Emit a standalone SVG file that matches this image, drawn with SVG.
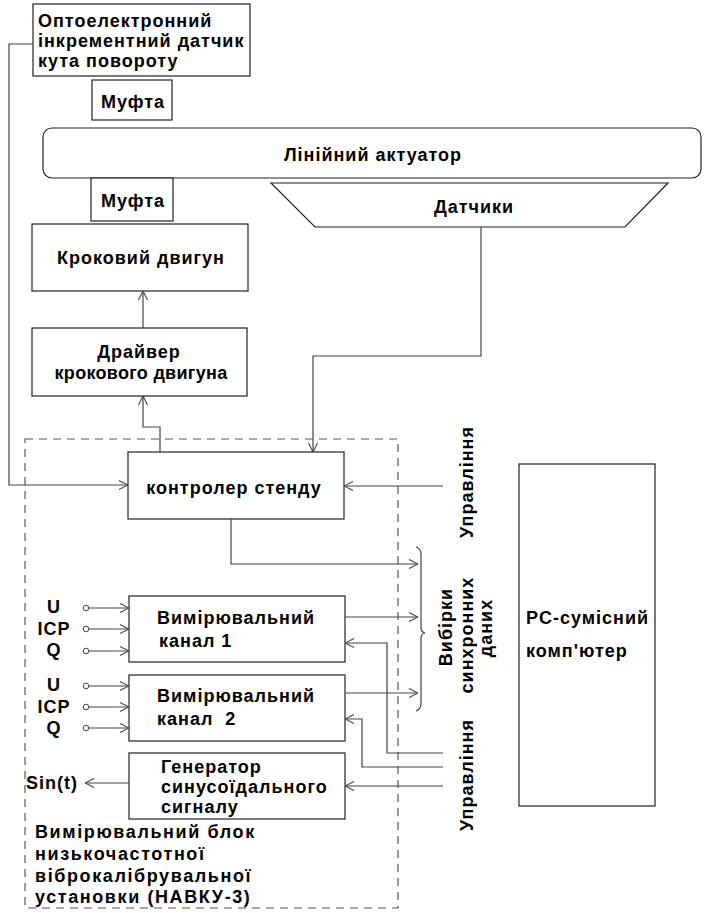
<svg xmlns="http://www.w3.org/2000/svg" width="704" height="913" viewBox="0 0 704 913">
<defs>
<style>
.t{font-family:"Liberation Sans",Arial,sans-serif;font-weight:bold;font-size:18px;letter-spacing:1px;fill:#000}
.c{text-anchor:middle}
.box{fill:#fff;stroke:#222;stroke-width:1.2}
.ln{fill:none;stroke:#444;stroke-width:1.2}
.dash{fill:none;stroke:#555;stroke-width:1.2;stroke-dasharray:8,6}
</style>
<marker id="arr" viewBox="0 0 10 10" refX="10" refY="5" markerWidth="10" markerHeight="10" orient="auto" markerUnits="userSpaceOnUse">
<path d="M1,0.5 L10,5 L1,9.5" fill="none" stroke="#444" stroke-width="1.1"/>
</marker>
</defs>
<rect width="704" height="913" fill="#fff"/>

<rect id="block" class="dash" x="25" y="439" width="373" height="469"/>

<g id="sensor"><rect class="box" x="33" y="4" width="217" height="72"/>
<text class="t" x="38" y="27">Оптоелектронний</text>
<text class="t" x="38" y="47">інкрементний датчик</text>
<text class="t" x="38" y="67">кута повороту</text></g>

<g id="mufta1"><rect class="box" x="92" y="80" width="80" height="40"/>
<text class="t c" x="133" y="108">Муфта</text></g>

<g id="actuator"><rect class="box" x="43" y="128" width="658" height="50" rx="9"/>
<text class="t c" x="373" y="161">Лінійний актуатор</text></g>

<g id="mufta2"><rect class="box" x="91" y="178" width="82" height="43"/>
<text class="t c" x="133" y="207">Муфта</text></g>

<g id="sensors"><polygon class="box" points="271,183 668,183 625,227 315,227"/>
<text class="t c" x="474" y="213">Датчики</text></g>

<g id="motor"><rect class="box" x="32" y="224" width="216" height="67"/>
<text class="t c" x="141" y="264">Кроковий двигун</text></g>

<g id="driver"><rect class="box" x="32" y="328" width="215" height="68"/>
<text class="t c" x="139" y="358">Драйвер</text>
<text class="t c" x="141" y="379" style="letter-spacing:0.3px">крокового двигуна</text></g>

<g id="controller"><rect class="box" x="128" y="452" width="216" height="67"/>
<text class="t c" x="234" y="494">контролер стенду</text></g>

<g id="channel1"><rect class="box" x="129" y="596" width="216" height="66"/>
<text class="t" x="157" y="624">Вимірювальний</text>
<text class="t" x="159" y="647">канал 1</text></g>

<g id="channel2"><rect class="box" x="129" y="675" width="216" height="66"/>
<text class="t" x="157" y="702">Вимірювальний</text>
<text class="t" x="157" y="725" xml:space="preserve">канал  2</text></g>

<g id="generator"><rect class="box" x="129" y="753" width="216" height="66"/>
<text class="t" x="161" y="773">Генератор</text>
<text class="t" x="161" y="793">синусоїдального</text>
<text class="t" x="161" y="813">сигналу</text></g>

<g id="pc"><rect class="box" x="519" y="464" width="136" height="342"/>
<text class="t" x="526" y="624">PC-сумісний</text>
<text class="t" x="526" y="657">комп'ютер</text></g>

<g id="inputs">
<text class="t c" x="54" y="613">U</text>
<text class="t c" x="54" y="635">ICP</text>
<text class="t c" x="54" y="656">Q</text>
<text class="t c" x="54" y="691">U</text>
<text class="t c" x="54" y="713">ICP</text>
<text class="t c" x="54" y="734">Q</text>
<g fill="#fff" stroke="#444" stroke-width="1">
<circle cx="86" cy="608" r="2.8"/><circle cx="86" cy="629" r="2.8"/><circle cx="86" cy="651" r="2.8"/>
<circle cx="86" cy="686" r="2.8"/><circle cx="86" cy="707" r="2.8"/><circle cx="86" cy="728" r="2.8"/>
</g></g>

<g id="labels">
<text class="t" x="35" y="838" style="letter-spacing:1.6px">Вимірювальний блок</text>
<text class="t" x="35" y="860" style="letter-spacing:1.6px">низькочастотної</text>
<text class="t" x="35" y="882" style="letter-spacing:1.6px">віброкалібрувальної</text>
<text class="t" x="35" y="903" style="letter-spacing:1.6px">установки (НАВКУ-3)</text>
<text class="t" x="26" y="789">Sin(t)</text>
<text class="t c" transform="translate(473,482) rotate(-90)">Управління</text>
<text class="t c" transform="translate(473,775) rotate(-90)">Управління</text>
<text class="t c" transform="translate(452,627) rotate(-90)">Вибірки</text>
<text class="t c" transform="translate(473,635) rotate(-90)">синхронних</text>
<text class="t c" transform="translate(492,628) rotate(-90)">даних</text>
</g>

<g id="connectors">
<path class="ln" d="M33,44 H9 V485 H128" marker-end="url(#arr)"/>
<path class="ln" d="M143,328 V291" marker-end="url(#arr)"/>
<path class="ln" d="M160,452 V427 H143 V396" marker-end="url(#arr)"/>
<path class="ln" d="M481,227 V356 H313 V452" marker-end="url(#arr)"/>
<path class="ln" d="M443,486 H344" marker-end="url(#arr)"/>
<path class="ln" d="M231,519 V564 H418" marker-end="url(#arr)"/>
<path class="ln" d="M345,617 H418" marker-end="url(#arr)"/>
<path class="ln" d="M345,693 H418" marker-end="url(#arr)"/>
<path class="ln" d="M416,547 Q421,549 421,554 V628 Q421,632 425,633 Q421,634 421,638 V704 Q421,709 416,711"/>
<path class="ln" d="M443,753 H387 V643 H345" marker-end="url(#arr)"/>
<path class="ln" d="M443,767 H362 V719 H345" marker-end="url(#arr)"/>
<path class="ln" d="M443,786 H345" marker-end="url(#arr)"/>
<path class="ln" d="M129,783 H85" marker-end="url(#arr)"/>
<path class="ln" d="M89,608 H129" marker-end="url(#arr)"/>
<path class="ln" d="M89,629 H129" marker-end="url(#arr)"/>
<path class="ln" d="M89,651 H129" marker-end="url(#arr)"/>
<path class="ln" d="M89,686 H129" marker-end="url(#arr)"/>
<path class="ln" d="M89,707 H129" marker-end="url(#arr)"/>
<path class="ln" d="M89,728 H129" marker-end="url(#arr)"/>
</g>
</svg>
